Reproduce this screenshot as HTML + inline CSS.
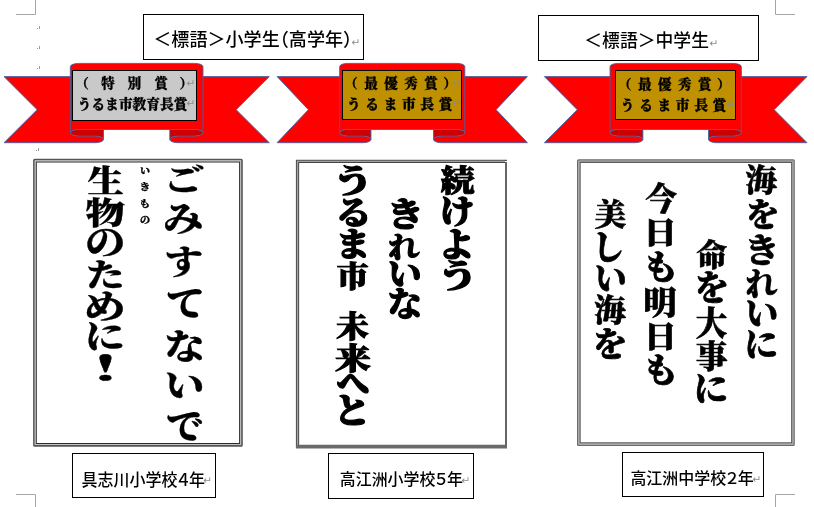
<!DOCTYPE html>
<html lang="ja"><head><meta charset="utf-8"><title>標語</title><style>
html,body{margin:0;padding:0;background:#fff}
body{width:814px;height:507px;position:relative;overflow:hidden;font-family:'Liberation Sans','Noto Sans CJK JP',sans-serif;color:#000}
.abs{position:absolute}
.panel,.lbl,.pt,.pm{filter:grayscale(1)}
svg.bg{position:absolute;left:0;top:0}
.vcol span{position:absolute;left:0;top:0;display:block;white-space:pre;transform-origin:0 0;
  font-family:'Noto Serif CJK JP','Noto Serif CJK SC',serif;font-weight:900;color:#000}
.lbl{position:absolute;box-sizing:border-box;border:1.3px solid #000;background:#fff}
.lbl>span{position:absolute;left:0;top:0;white-space:pre;transform-origin:0 0;display:block}
.plate{position:absolute;box-sizing:border-box;border:1.5px solid #000}
.pt>span{position:absolute;left:0;top:0;white-space:pre;transform-origin:0 0;display:block;
  font-family:'Noto Serif CJK JP','Noto Serif CJK SC',serif;font-weight:900;font-size:13.33px;line-height:13.33px;-webkit-text-stroke:.3px #000}
.pt b{position:relative;font-weight:inherit}
.pm{position:absolute;color:#8a8a8a;font-size:10.5px;line-height:9px;font-family:'DejaVu Sans',sans-serif}
.hw{font-feature-settings:"halt"}.dg{margin:0 -0.14em}
.dot{position:absolute;width:1px;height:1px;background:#9a9a9a}
</style></head><body>
<svg class="bg" width="814" height="507" viewBox="0 0 814 507"><path d="M16 14.5H35.5V0M775.5 0V14.5H795M16 494.5H35.5V507M775.5 507V494.5H795" fill="none" stroke="#a6a6a6" stroke-width="1"/><path d="M4.00 142.70L95.20 142.70A8.29 3.30 0 0 0 103.49 139.40A8.29 3.30 0 0 0 95.20 136.09L78.62 136.09A8.29 3.30 0 0 1 70.33 132.79A8.29 3.30 0 0 1 78.62 129.48L194.68 129.48A8.29 3.30 0 0 1 202.98 132.79A8.29 3.30 0 0 1 194.68 136.09L178.10 136.09A8.29 3.30 0 0 0 169.81 139.40A8.29 3.30 0 0 0 178.10 142.70L269.30 142.70L236.14 109.66L269.30 76.62L202.98 76.62L202.98 66.70A8.29 3.30 0 0 0 194.68 63.40L78.62 63.40A8.29 3.30 0 0 0 70.33 66.70L70.33 76.62L4.00 76.62L37.16 109.66Z" fill="#ff0000"/><path d="M78.62 129.48L103.49 129.48L103.49 139.40A8.29 3.30 0 0 0 95.20 136.09L78.62 136.09A8.29 3.30 0 0 1 70.33 132.79A8.29 3.30 0 0 1 78.62 129.48ZM194.68 129.48L169.81 129.48L169.81 139.40A8.29 3.30 0 0 1 178.10 136.09L194.68 136.09A8.29 3.30 0 0 0 202.98 132.79A8.29 3.30 0 0 0 194.68 129.48Z" fill="#cc0000"/><path d="M4.00 142.70L95.20 142.70A8.29 3.30 0 0 0 103.49 139.40A8.29 3.30 0 0 0 95.20 136.09L78.62 136.09A8.29 3.30 0 0 1 70.33 132.79A8.29 3.30 0 0 1 78.62 129.48L194.68 129.48A8.29 3.30 0 0 1 202.98 132.79A8.29 3.30 0 0 1 194.68 136.09L178.10 136.09A8.29 3.30 0 0 0 169.81 139.40A8.29 3.30 0 0 0 178.10 142.70L269.30 142.70L236.14 109.66L269.30 76.62L202.98 76.62L202.98 66.70A8.29 3.30 0 0 0 194.68 63.40L78.62 63.40A8.29 3.30 0 0 0 70.33 66.70L70.33 76.62L4.00 76.62L37.16 109.66ZM103.49 129.48L103.49 139.40M169.81 129.48L169.81 139.40M70.33 76.62L70.33 132.79M202.98 76.62L202.98 132.79" fill="none" stroke="#3b64a8" stroke-width="0.9" stroke-linejoin="round"/><path d="M277.10 142.70L363.14 142.70A7.82 3.30 0 0 0 370.96 139.40A7.82 3.30 0 0 0 363.14 136.09L347.50 136.09A7.82 3.30 0 0 1 339.68 132.79A7.82 3.30 0 0 1 347.50 129.48L457.00 129.48A7.82 3.30 0 0 1 464.82 132.79A7.82 3.30 0 0 1 457.00 136.09L441.36 136.09A7.82 3.30 0 0 0 433.54 139.40A7.82 3.30 0 0 0 441.36 142.70L527.40 142.70L496.11 109.66L527.40 76.62L464.82 76.62L464.82 66.70A7.82 3.30 0 0 0 457.00 63.40L347.50 63.40A7.82 3.30 0 0 0 339.68 66.70L339.68 76.62L277.10 76.62L308.39 109.66Z" fill="#ff0000"/><path d="M347.50 129.48L370.96 129.48L370.96 139.40A7.82 3.30 0 0 0 363.14 136.09L347.50 136.09A7.82 3.30 0 0 1 339.68 132.79A7.82 3.30 0 0 1 347.50 129.48ZM457.00 129.48L433.54 129.48L433.54 139.40A7.82 3.30 0 0 1 441.36 136.09L457.00 136.09A7.82 3.30 0 0 0 464.82 132.79A7.82 3.30 0 0 0 457.00 129.48Z" fill="#cc0000"/><path d="M277.10 142.70L363.14 142.70A7.82 3.30 0 0 0 370.96 139.40A7.82 3.30 0 0 0 363.14 136.09L347.50 136.09A7.82 3.30 0 0 1 339.68 132.79A7.82 3.30 0 0 1 347.50 129.48L457.00 129.48A7.82 3.30 0 0 1 464.82 132.79A7.82 3.30 0 0 1 457.00 136.09L441.36 136.09A7.82 3.30 0 0 0 433.54 139.40A7.82 3.30 0 0 0 441.36 142.70L527.40 142.70L496.11 109.66L527.40 76.62L464.82 76.62L464.82 66.70A7.82 3.30 0 0 0 457.00 63.40L347.50 63.40A7.82 3.30 0 0 0 339.68 66.70L339.68 76.62L277.10 76.62L308.39 109.66ZM370.96 129.48L370.96 139.40M433.54 129.48L433.54 139.40M339.68 76.62L339.68 132.79M464.82 76.62L464.82 132.79" fill="none" stroke="#3b64a8" stroke-width="0.9" stroke-linejoin="round"/><path d="M544.40 142.70L634.67 142.70A8.21 3.30 0 0 0 642.88 139.40A8.21 3.30 0 0 0 634.67 136.09L618.26 136.09A8.21 3.30 0 0 1 610.05 132.79A8.21 3.30 0 0 1 618.26 129.48L733.14 129.48A8.21 3.30 0 0 1 741.35 132.79A8.21 3.30 0 0 1 733.14 136.09L716.73 136.09A8.21 3.30 0 0 0 708.52 139.40A8.21 3.30 0 0 0 716.73 142.70L807.00 142.70L774.17 109.66L807.00 76.62L741.35 76.62L741.35 66.70A8.21 3.30 0 0 0 733.14 63.40L618.26 63.40A8.21 3.30 0 0 0 610.05 66.70L610.05 76.62L544.40 76.62L577.23 109.66Z" fill="#ff0000"/><path d="M618.26 129.48L642.88 129.48L642.88 139.40A8.21 3.30 0 0 0 634.67 136.09L618.26 136.09A8.21 3.30 0 0 1 610.05 132.79A8.21 3.30 0 0 1 618.26 129.48ZM733.14 129.48L708.52 129.48L708.52 139.40A8.21 3.30 0 0 1 716.73 136.09L733.14 136.09A8.21 3.30 0 0 0 741.35 132.79A8.21 3.30 0 0 0 733.14 129.48Z" fill="#cc0000"/><path d="M544.40 142.70L634.67 142.70A8.21 3.30 0 0 0 642.88 139.40A8.21 3.30 0 0 0 634.67 136.09L618.26 136.09A8.21 3.30 0 0 1 610.05 132.79A8.21 3.30 0 0 1 618.26 129.48L733.14 129.48A8.21 3.30 0 0 1 741.35 132.79A8.21 3.30 0 0 1 733.14 136.09L716.73 136.09A8.21 3.30 0 0 0 708.52 139.40A8.21 3.30 0 0 0 716.73 142.70L807.00 142.70L774.17 109.66L807.00 76.62L741.35 76.62L741.35 66.70A8.21 3.30 0 0 0 733.14 63.40L618.26 63.40A8.21 3.30 0 0 0 610.05 66.70L610.05 76.62L544.40 76.62L577.23 109.66ZM642.88 129.48L642.88 139.40M708.52 129.48L708.52 139.40M610.05 76.62L610.05 132.79M741.35 76.62L741.35 132.79" fill="none" stroke="#3b64a8" stroke-width="0.9" stroke-linejoin="round"/><rect x="33.10" y="158.70" width="209.70" height="288.10" fill="#fff"/><path d="M34.70 158.70H241.20Q242.80 158.70 242.80 160.30V445.20Q242.80 446.80 241.20 446.80H34.70Q33.10 446.80 33.10 445.20V160.30Q33.10 158.70 34.70 158.70ZM34.80 160.40H241.10V445.10H34.80Z" fill="#555" fill-rule="evenodd"/><path d="M34.80 160.40H241.10V445.10H34.80ZM35.80 161.40H240.10V444.10H35.80Z" fill="#c2c2c2" fill-rule="evenodd"/><path d="M35.80 161.40H240.10V444.10H35.80ZM36.80 162.40H239.10V443.10H36.80Z" fill="#2b2b2b" fill-rule="evenodd"/><rect x="296" y="159.7" width="211" height="288.4" fill="#fff"/><path d="M296.6 447.6V160.4H507" fill="none" stroke="#555" stroke-width="1.4"/><path d="M298.6 445V162.5H505" fill="none" stroke="#444" stroke-width="1.1"/><path d="M297.6 446V161.4H505" fill="none" stroke="#a0a0a0" stroke-width="1.1"/><path d="M296 446.6H507" fill="none" stroke="#6a6a6a" stroke-width="3.6"/><path d="M506 162V447" fill="none" stroke="#666" stroke-width="2"/><rect x="577.00" y="159.20" width="217.80" height="286.80" fill="#fff"/><path d="M578.60 159.20H793.20Q794.80 159.20 794.80 160.80V444.40Q794.80 446.00 793.20 446.00H578.60Q577.00 446.00 577.00 444.40V160.80Q577.00 159.20 578.60 159.20ZM578.50 160.70H793.30V444.50H578.50Z" fill="#6a6a6a" fill-rule="evenodd"/><path d="M578.50 160.70H793.30V444.50H578.50ZM579.40 161.60H792.40V443.60H579.40Z" fill="#a0a0a0" fill-rule="evenodd"/><path d="M579.40 161.60H792.40V443.60H579.40ZM580.70 162.90H791.10V442.30H580.70Z" fill="#5c5c5c" fill-rule="evenodd"/></svg>
<div class="lbl" style="left:142.6px;top:13.8px;width:221.2px;height:45.8px"></div>
<div class="lbl" style="left:537.9px;top:14.8px;width:221.3px;height:46.1px"></div>
<div class="lbl" style="left:71.6px;top:452.8px;width:144.8px;height:45px"></div>
<div class="lbl" style="left:327.9px;top:452.8px;width:146.5px;height:46.1px"></div>
<div class="lbl" style="left:621.6px;top:451.7px;width:142.3px;height:45.1px"></div>
<div class="plate" style="left:72.3px;top:70.3px;width:124.7px;height:50.4px;background:#c9c9c9"></div>
<div class="plate" style="left:341.5px;top:70.3px;width:120.4px;height:50px;background:#bf9000"></div>
<div class="plate" style="left:615.2px;top:70.3px;width:120.4px;height:50px;background:#bf9000"></div>
<div class="lbl" style="border:0;background:none"><span style="font-family:'Noto Sans CJK JP',sans-serif;font-weight:500;font-size:17.6px;line-height:17.6px;letter-spacing:0px;transform:matrix(1.027,0,0,1.023,153.28,29.19)">＜標語＞小学生<span class="hw">（</span>高学年<span class="hw">）</span></span></div>
<div class="lbl" style="border:0;background:none"><span style="font-family:'Noto Sans CJK JP',sans-serif;font-weight:500;font-size:17.6px;line-height:17.6px;letter-spacing:0px;transform:matrix(1.012,0,0,1.005,584.30,31.02)">＜標語＞中学生</span></div>
<div class="lbl" style="border:0;background:none"><span style="font-family:'Noto Sans CJK JP',sans-serif;font-weight:500;font-size:16px;line-height:16px;letter-spacing:0px;transform:matrix(0.999,0,0,1.033,81.55,470.21)">具志川小学校<span class="dg">４</span>年</span></div>
<div class="lbl" style="border:0;background:none"><span style="font-family:'Noto Sans CJK JP',sans-serif;font-weight:500;font-size:16px;line-height:16px;letter-spacing:0px;transform:matrix(0.996,0,0,1.020,339.80,470.12)">高江洲小学校<span class="dg">５</span>年</span></div>
<div class="lbl" style="border:0;background:none"><span style="font-family:'Noto Sans CJK JP',sans-serif;font-weight:500;font-size:16px;line-height:16px;letter-spacing:0px;transform:matrix(0.998,0,0,1.000,630.40,469.25)">高江洲中学校<span class="dg">２</span>年</span></div>
<div class="pt" style="border:0;background:none"><span style="font-family:'Noto Serif CJK JP','Noto Serif CJK SC',serif;font-weight:900;font-size:13.33px;line-height:13.33px;letter-spacing:13.2px;transform:matrix(1.004,0,0,0.994,74.51,76.33)"><b style="left:1px">（</b>特別賞<b style="left:-1.5px">）</b></span></div>
<div class="pt" style="border:0;background:none"><span style="font-family:'Noto Serif CJK JP','Noto Serif CJK SC',serif;font-weight:900;font-size:13.33px;line-height:13.33px;letter-spacing:0px;transform:matrix(1.027,0,0,1.064,77.83,96.07)">うるま市教育長賞</span></div>
<div class="pt" style="border:0;background:none"><span style="font-family:'Noto Serif CJK JP','Noto Serif CJK SC',serif;font-weight:900;font-size:13.33px;line-height:13.33px;letter-spacing:6.4px;transform:matrix(1.015,0,0,0.985,344.17,76.46)">（最優秀賞<b style="left:-1px">）</b></span></div>
<div class="pt" style="border:0;background:none"><span style="font-family:'Noto Serif CJK JP','Noto Serif CJK SC',serif;font-weight:900;font-size:13.33px;line-height:13.33px;letter-spacing:4.4px;transform:matrix(1.034,0,0,1.064,347.01,96.07)">うるま市長賞</span></div>
<div class="pt" style="border:0;background:none"><span style="font-family:'Noto Serif CJK JP','Noto Serif CJK SC',serif;font-weight:900;font-size:13.33px;line-height:13.33px;letter-spacing:6.4px;transform:matrix(1.015,0,0,0.985,617.97,77.26)">（最優秀賞<b style="left:-1px">）</b></span></div>
<div class="pt" style="border:0;background:none"><span style="font-family:'Noto Serif CJK JP','Noto Serif CJK SC',serif;font-weight:900;font-size:13.33px;line-height:13.33px;letter-spacing:4.4px;transform:matrix(1.034,0,0,1.064,620.81,96.87)">うるま市長賞</span></div>
<span class="pm" style="left:351.5px;top:37.5px">↵</span>
<span class="pm" style="left:709.5px;top:38.5px">↵</span>
<span class="pm" style="left:203.3px;top:475.5px">↵</span>
<span class="pm" style="left:461.5px;top:475.5px">↵</span>
<span class="pm" style="left:752.5px;top:474.5px">↵</span>
<span class="pm" style="left:186.5px;top:78.5px">↵</span>
<span class="pm" style="left:186.5px;top:99px">↵</span>
<span class="pm" style="left:452.3px;top:78.5px">↵</span>
<span class="pm" style="left:452.5px;top:99px">↵</span>
<span class="pm" style="left:725.3px;top:79.3px">↵</span>
<span class="pm" style="left:726.3px;top:100px">↵</span>
<span class="dot" style="left:37px;top:28px"></span><span class="dot" style="left:39px;top:26px;height:3px"></span>
<span class="dot" style="left:37px;top:48px"></span><span class="dot" style="left:39px;top:46px;height:3px"></span>
<span class="dot" style="left:37px;top:68px"></span><span class="dot" style="left:39px;top:66px;height:3px"></span>
<span class="dot" style="left:36px;top:150px"></span><span class="dot" style="left:38px;top:148px;height:3px"></span>
<div class="panel p1"><div class="vcol"><span style="font-size:41px;line-height:41px;-webkit-text-stroke:0.4px #000;transform:matrix(1.011,0,0,0.721,162.97,163.04)">ご</span><span style="font-size:41px;line-height:41px;-webkit-text-stroke:0.4px #000;transform:matrix(0.981,0,0,0.830,163.09,199.04)">み</span><span style="font-size:41px;line-height:41px;-webkit-text-stroke:0.4px #000;transform:matrix(0.940,0,0,0.812,164.49,242.74)">す</span><span style="font-size:41px;line-height:41px;-webkit-text-stroke:0.4px #000;transform:matrix(0.961,0,0,0.868,165.63,283.00)">て</span><span style="font-size:41px;line-height:41px;-webkit-text-stroke:0.4px #000;transform:matrix(0.995,0,0,0.835,164.35,327.38)">な</span><span style="font-size:41px;line-height:41px;-webkit-text-stroke:0.4px #000;transform:matrix(0.973,0,0,0.862,164.81,365.72)">い</span><span style="font-size:41px;line-height:41px;-webkit-text-stroke:0.4px #000;transform:matrix(0.910,0,0,0.868,166.11,406.20)">で</span></div>
<div class="vcol"><span style="font-size:9px;line-height:9px;-webkit-text-stroke:0.3px #000;transform:matrix(1.123,0,0,0.991,140.00,165.93)">い</span><span style="font-size:9px;line-height:9px;-webkit-text-stroke:0.3px #000;transform:matrix(1.201,0,0,0.980,139.59,182.01)">き</span><span style="font-size:9px;line-height:9px;-webkit-text-stroke:0.3px #000;transform:matrix(1.235,0,0,0.992,139.33,199.20)">も</span><span style="font-size:9px;line-height:9px;-webkit-text-stroke:0.3px #000;transform:matrix(1.136,0,0,1.041,139.89,214.91)">の</span></div>
<div class="vcol"><span style="font-size:40px;line-height:40px;-webkit-text-stroke:0.4px #000;transform:matrix(0.915,0,0,0.772,87.38,163.24)">生</span><span style="font-size:40px;line-height:40px;-webkit-text-stroke:0.4px #000;transform:matrix(0.990,0,0,0.771,85.51,195.74)">物</span><span style="font-size:40px;line-height:40px;-webkit-text-stroke:0.4px #000;transform:matrix(1.009,0,0,0.875,84.98,222.60)">の</span><span style="font-size:40px;line-height:40px;-webkit-text-stroke:0.4px #000;transform:matrix(0.977,0,0,0.776,85.76,256.80)">た</span><span style="font-size:40px;line-height:40px;-webkit-text-stroke:0.4px #000;transform:matrix(1.052,0,0,0.840,83.43,287.57)">め</span><span style="font-size:40px;line-height:40px;-webkit-text-stroke:0.4px #000;transform:matrix(1.000,0,0,0.813,84.70,317.82)">に</span><span style="font-size:40px;line-height:40px;-webkit-text-stroke:0.4px #000;transform:matrix(1.639,0,0,0.831,72.72,349.21)">！</span></div></div>
<div class="panel p2"><div class="vcol"><span style="font-size:36px;line-height:36px;-webkit-text-stroke:1.3px #000;transform:matrix(0.935,0,0,0.822,440.70,163.92)">続</span><span style="font-size:36px;line-height:36px;-webkit-text-stroke:1.3px #000;transform:matrix(0.979,0,0,0.912,439.08,193.06)">け</span><span style="font-size:36px;line-height:36px;-webkit-text-stroke:1.3px #000;transform:matrix(1.039,0,0,0.935,438.06,225.70)">よ</span><span style="font-size:36px;line-height:36px;-webkit-text-stroke:1.3px #000;transform:matrix(1.192,0,0,0.877,436.71,257.98)">う</span></div>
<div class="vcol"><span style="font-size:36px;line-height:36px;-webkit-text-stroke:1.3px #000;transform:matrix(1.051,0,0,0.929,386.38,195.09)">き</span><span style="font-size:36px;line-height:36px;-webkit-text-stroke:1.3px #000;transform:matrix(0.861,0,0,0.774,388.38,232.77)">れ</span><span style="font-size:36px;line-height:36px;-webkit-text-stroke:1.3px #000;transform:matrix(0.936,0,0,0.957,387.99,254.46)">い</span><span style="font-size:36px;line-height:36px;-webkit-text-stroke:1.3px #000;transform:matrix(0.957,0,0,0.905,387.62,286.07)">な</span></div>
<div class="vcol"><span style="font-size:36px;line-height:36px;-webkit-text-stroke:1.3px #000;transform:matrix(1.192,0,0,0.877,332.01,162.67)">う</span><span style="font-size:36px;line-height:36px;-webkit-text-stroke:1.3px #000;transform:matrix(1.027,0,0,0.887,335.13,195.15)">る</span><span style="font-size:36px;line-height:36px;-webkit-text-stroke:1.3px #000;transform:matrix(0.985,0,0,0.904,335.40,226.15)">ま</span><span style="font-size:36px;line-height:36px;-webkit-text-stroke:1.3px #000;transform:matrix(0.887,0,0,0.811,336.68,260.54)">市</span><span style="font-size:18px;line-height:18px;transform:matrix(1,0,0,1,344,291)">　</span><span style="font-size:36px;line-height:36px;-webkit-text-stroke:1.3px #000;transform:matrix(0.903,0,0,0.819,336.30,309.82)">未</span><span style="font-size:36px;line-height:36px;-webkit-text-stroke:1.3px #000;transform:matrix(0.995,0,0,0.819,335.09,342.32)">来</span><span style="font-size:36px;line-height:36px;-webkit-text-stroke:1.3px #000;transform:matrix(0.901,0,0,0.921,336.68,364.28)">へ</span><span style="font-size:36px;line-height:36px;-webkit-text-stroke:1.3px #000;transform:matrix(1.070,0,0,0.935,332.75,392.63)">と</span></div></div>
<div class="panel p3"><div class="vcol"><span style="font-size:34.7px;line-height:34.7px;-webkit-text-stroke:0.7px #000;transform:matrix(0.911,0,0,0.870,745.58,163.59)">海</span><span style="font-size:34.7px;line-height:34.7px;-webkit-text-stroke:0.7px #000;transform:matrix(0.979,0,0,0.927,745.74,196.50)">を</span><span style="font-size:34.7px;line-height:34.7px;-webkit-text-stroke:0.7px #000;transform:matrix(1.037,0,0,0.940,743.96,231.67)">き</span><span style="font-size:34.7px;line-height:34.7px;-webkit-text-stroke:0.7px #000;transform:matrix(0.912,0,0,0.899,745.85,266.49)">れ</span><span style="font-size:34.7px;line-height:34.7px;-webkit-text-stroke:0.7px #000;transform:matrix(0.948,0,0,1.022,745.48,293.45)">い</span><span style="font-size:34.7px;line-height:34.7px;-webkit-text-stroke:0.7px #000;transform:matrix(0.965,0,0,0.965,744.59,325.01)">に</span></div>
<div class="vcol"><span style="font-size:34.7px;line-height:34.7px;-webkit-text-stroke:0.7px #000;transform:matrix(0.888,0,0,0.870,696.50,237.79)">命</span><span style="font-size:34.7px;line-height:34.7px;-webkit-text-stroke:0.7px #000;transform:matrix(1.000,0,0,0.971,694.38,269.37)">を</span><span style="font-size:34.7px;line-height:34.7px;-webkit-text-stroke:0.7px #000;transform:matrix(0.912,0,0,0.966,695.68,304.05)">大</span><span style="font-size:34.7px;line-height:34.7px;-webkit-text-stroke:0.7px #000;transform:matrix(0.912,0,0,0.912,695.67,339.00)">事</span><span style="font-size:34.7px;line-height:34.7px;-webkit-text-stroke:0.7px #000;transform:matrix(0.989,0,0,0.989,693.71,369.40)">に</span></div>
<div class="vcol"><span style="font-size:34.7px;line-height:34.7px;-webkit-text-stroke:0.7px #000;transform:matrix(0.905,0,0,0.902,645.60,181.53)">今</span><span style="font-size:34.7px;line-height:34.7px;-webkit-text-stroke:0.7px #000;transform:matrix(0.967,0,0,0.858,643.23,215.92)">日</span><span style="font-size:34.7px;line-height:34.7px;-webkit-text-stroke:0.7px #000;transform:matrix(1.050,0,0,0.950,642.47,248.70)">も</span><span style="font-size:34.7px;line-height:34.7px;-webkit-text-stroke:0.7px #000;transform:matrix(0.971,0,0,0.921,642.98,284.06)">明</span><span style="font-size:34.7px;line-height:34.7px;-webkit-text-stroke:0.7px #000;transform:matrix(0.951,0,0,0.861,643.72,319.01)">日</span><span style="font-size:34.7px;line-height:34.7px;-webkit-text-stroke:0.7px #000;transform:matrix(1.050,0,0,0.960,642.47,350.87)">も</span></div>
<div class="vcol"><span style="font-size:34.7px;line-height:34.7px;-webkit-text-stroke:0.7px #000;transform:matrix(0.912,0,0,0.862,594.48,197.81)">美</span><span style="font-size:34.7px;line-height:34.7px;-webkit-text-stroke:0.7px #000;transform:matrix(0.929,0,0,0.992,592.34,228.27)">し</span><span style="font-size:34.7px;line-height:34.7px;-webkit-text-stroke:0.7px #000;transform:matrix(0.925,0,0,1.019,594.72,258.28)">い</span><span style="font-size:34.7px;line-height:34.7px;-webkit-text-stroke:0.7px #000;transform:matrix(0.914,0,0,0.873,594.28,293.18)">海</span><span style="font-size:34.7px;line-height:34.7px;-webkit-text-stroke:0.7px #000;transform:matrix(1.003,0,0,0.952,592.87,325.83)">を</span></div></div>
</body></html>
